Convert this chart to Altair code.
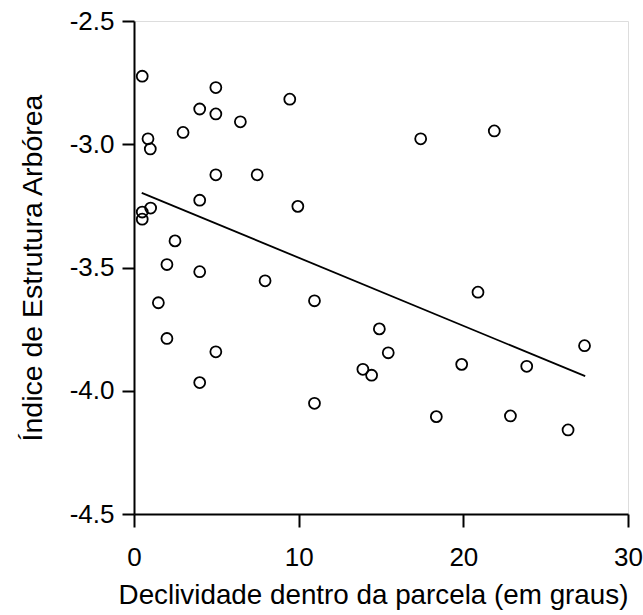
import altair as alt
import pandas as pd

slope_deg = [0.5, 4.97, 3.99, 4.97, 9.46, 6.46, 2.98, 0.85, 0.99, 4.97, 7.48, 3.99, 9.95,
             1.01, 0.5, 0.5, 2.49, 2.0, 3.99, 7.96, 10.96, 1.48, 2.0, 4.97, 3.99, 10.96,
             17.41, 21.88, 20.89, 14.9, 15.44, 13.9, 14.43, 19.9, 23.85, 27.36, 18.36, 22.86, 26.36]
index_val = [-2.724, -2.770, -2.857, -2.877, -2.817, -2.909, -2.952, -2.978, -3.019, -3.124,
             -3.124, -3.227, -3.252, -3.259, -3.275, -3.304, -3.392, -3.488, -3.517, -3.554,
             -3.635, -3.643, -3.788, -3.842, -3.967, -4.051, -2.978, -2.946, -3.600, -3.749,
             -3.846, -3.913, -3.937, -3.893, -3.901, -3.817, -4.105, -4.102, -4.159]
fit_x = [0.47, 27.4]
fit_y = [-3.197, -3.941]

x_ticks = [0, 10, 20, 30]
y_ticks = [-4.5, -4.0, -3.5, -3.0, -2.5]

pts = pd.DataFrame({"x": slope_deg, "y": index_val})
fit = pd.DataFrame({"x": fit_x, "y": fit_y})

FONT = "Liberation Sans"
xscale = alt.Scale(domain=[0, 30], nice=False, zero=False)
yscale = alt.Scale(domain=[-4.5, -2.5], nice=False, zero=False)

common = dict(grid=False, tickWidth=2, domainWidth=2, domainColor="black", tickColor="black",
              labelFont=FONT, titleFont=FONT, labelColor="black", titleColor="black",
              titleFontWeight="normal", labelFlush=False, labelOverlap=False)

xaxis = alt.Axis(values=x_ticks, title="Declividade dentro da parcela (em graus)",
                 tickSize=13, labelFontSize=26, titleFontSize=27.8,
                 labelPadding=17, titlePadding=11, titleX=239, **common)
yaxis = alt.Axis(values=y_ticks, title="Índice de Estrutura Arbórea",
                 tickSize=12, labelFontSize=26, titleFontSize=28.5,
                 labelPadding=8, titlePadding=22,
                 labelExpr="(datum.value < 0 ? '-' : '') + format(abs(datum.value), '.1f')",
                 **common)

points = alt.Chart(pts).mark_point(shape="circle", filled=False, color="black",
                                   strokeWidth=1.8, size=120, opacity=1).encode(
    x=alt.X("x:Q", scale=xscale, axis=xaxis),
    y=alt.Y("y:Q", scale=yscale, axis=yaxis),
)
line = alt.Chart(fit).mark_line(color="black", strokeWidth=1.8).encode(
    x=alt.X("x:Q", scale=xscale),
    y=alt.Y("y:Q", scale=yscale),
)

chart = (points + line).properties(
    width=494, height=493,
    autosize=alt.AutoSizeParams(type="none"),
    padding={"left": 134, "top": 21, "right": 15, "bottom": 101},
).configure_view(stroke=None).configure(background="white")

chart.save("out.html", embed_options={"renderer": "svg", "actions": False})
